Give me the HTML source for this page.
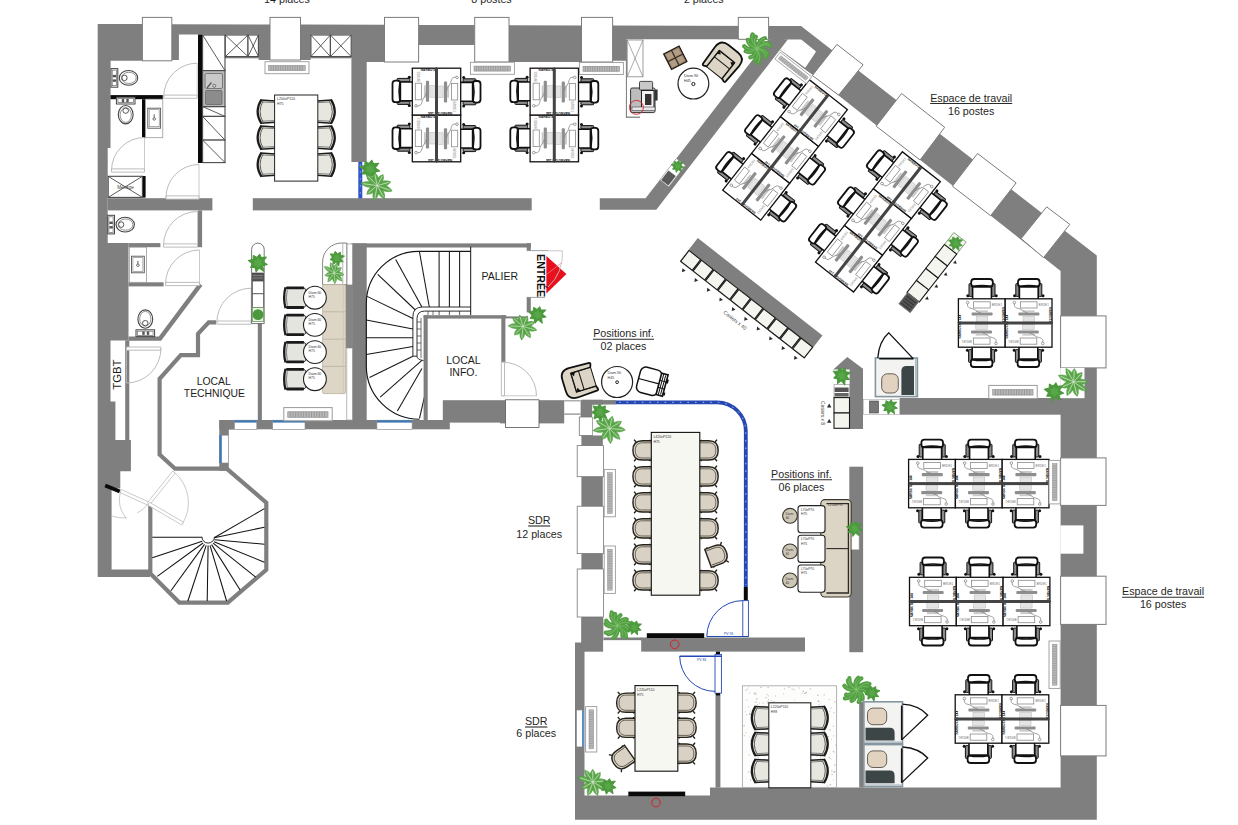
<!DOCTYPE html>
<html><head><meta charset="utf-8"><title>Plan</title>
<style>
html,body{margin:0;padding:0;background:#fff;}
body{width:1238px;height:825px;overflow:hidden;font-family:"Liberation Sans",sans-serif;}
svg{display:block;}
text{font-family:"Liberation Sans",sans-serif;}
</style></head><body>
<svg width="1238" height="825" viewBox="0 0 1238 825">
<!-- defs -->
<defs><g id="oc">
<circle cx="-14.2" cy="-3" r="1.5" fill="#111"/><circle cx="14.2" cy="-3" r="1.5" fill="#111"/>
<rect x="-13" y="-15.2" width="3.4" height="12.8" rx="0.8" fill="#8c8c8c" stroke="#111" stroke-width="1"/>
<rect x="9.6" y="-15.2" width="3.4" height="12.8" rx="0.8" fill="#8c8c8c" stroke="#111" stroke-width="1"/>
<path d="M-9.4,0.4 V-13 H9.4 V0.4" fill="#fff" stroke="#111" stroke-width="1.6"/>
<rect x="-10.8" y="-19.8" width="21.6" height="7.8" rx="3" fill="#fff" stroke="#111" stroke-width="1.8"/>
<path d="M-9.6,-12.4 Q0,-14.2 9.6,-12.4" fill="none" stroke="#111" stroke-width="1.6"/>
</g><g id="ws">
<use href="#oc" x="23.6" y="0"/>
<rect x="0" y="0" width="46.8" height="24.2" fill="#fff" stroke="#111" stroke-width="1.3"/>
<rect x="15.2" y="3" width="16.6" height="6.2" fill="#fff" stroke="#8a8a8a" stroke-width="0.8"/>
<rect x="13.2" y="13.6" width="21" height="3.2" rx="1" fill="#8e8e8e"/>
<rect x="17.5" y="11.6" width="12" height="2" fill="#c9c9c9"/>
<rect x="17.8" y="17.6" width="11.6" height="5.4" fill="#e4e4e4" stroke="#b5b5b5" stroke-width="0.5"/>
<path d="M9.2,4.6 C8.2,10.5 13.5,8.6 17,11.4 S21,13.6 22.5,14" fill="none" stroke="#777" stroke-width="0.7"/>
<circle cx="9.2" cy="3.7" r="1.3" fill="#fff" stroke="#666" stroke-width="0.6"/>
<text x="33.4" y="7.4" font-size="3.1" fill="#777">BRDE1</text>
<text transform="translate(43.8,8.5) rotate(90)" font-size="3.2" fill="#222" font-weight="bold">NARBUTAS 144</text>
</g><g id="rad">
<rect x="0" y="0" width="44" height="12" fill="#fff" stroke="#9a9a9a" stroke-width="0.9"/>
<rect x="3.6" y="3.8" width="36.6" height="5" fill="#b8b8b8" stroke="#8d8d8d" stroke-width="0.6"/>
<path d="M6,3.8v5M8.4,3.8v5M10.8,3.8v5M13.2,3.8v5M15.6,3.8v5M18,3.8v5M20.4,3.8v5M22.8,3.8v5M25.2,3.8v5M27.6,3.8v5M30,3.8v5M32.4,3.8v5M34.8,3.8v5M37.2,3.8v5" stroke="#8a8a8a" stroke-width="0.6"/>
</g><g id="pstar"><polygon points="10.2,2.1 5.2,3.5 6.4,9.7 1.2,6.0 -2.1,10.3 -3.5,5.3 -8.1,5.3 -6.1,1.2 -10.6,-2.2 -5.5,-3.7 -5.2,-7.9 -1.1,-5.8 1.9,-9.2 3.7,-5.5 9.2,-6.1 5.4,-1.1" fill="#4b993c" stroke="#4b993c" stroke-width="1.2" stroke-linejoin="round"/><polygon points="5.9,3.2 2.0,3.3 0.1,6.2 -1.7,3.2 -4.7,2.9 -3.1,0.1 -5.3,-2.9 -1.6,-2.7 -0.1,-5.5 1.6,-2.9 4.5,-2.8 3.5,-0.1" fill="#57a647"/></g><g id="pleaf"><circle r="7.5" fill="#5fa94e"/><path d="M0,0Q8.3,6.3 15.9,1.4Q9.2,-4.8 0,0ZM0,0Q1.7,9.9 10.5,10.9Q9.8,2.1 0,0ZM0,0Q-5.0,8.8 1.1,15.2Q6.2,7.9 0,0ZM0,0Q-8.9,2.9 -7.8,11.1Q0.3,9.3 0,0ZM0,0Q-9.8,-4.4 -16.5,2.1Q-8.4,6.7 0,0ZM0,0Q-4.4,-9.1 -13.3,-7.8Q-10.1,0.5 0,0ZM0,0Q1.7,-9.1 -6.0,-11.9Q-8.3,-4.0 0,0ZM0,0Q7.0,-5.5 2.8,-12.3Q-3.9,-8.0 0,0ZM0,0Q9.5,0.9 12.1,-7.1Q3.8,-8.7 0,0Z" fill="#5fa94e" stroke="#4f9a40" stroke-width="0.5"/><path d="M0,0L13.5,1.2M0,0L8.9,9.2M0,0L1.0,12.9M0,0L-6.6,9.4M0,0L-14.0,1.8M0,0L-11.3,-6.7M0,0L-5.1,-10.1M0,0L2.4,-10.5M0,0L10.3,-6.1" stroke="#cfe9c6" stroke-width="0.7" fill="none"/></g><g id="palm"><path d="M0,0Q8.9,-0.4 11.4,4.9M0,0Q9.3,4.7 8.8,11.6M0,0Q6.5,5.1 5.1,10.4M0,0Q1.4,9.1 -3.8,12.2M0,0Q-3.1,8.4 -9.0,8.6M0,0Q-5.2,8.2 -11.5,7.1M0,0Q-8.1,2.6 -11.7,-1.7M0,0Q-8.7,0.3 -11.1,-4.9M0,0Q-7.7,-6.7 -5.6,-13.0M0,0Q-4.9,-6.8 -2.1,-11.5M0,0Q-1.2,-7.7 3.2,-10.3M0,0Q4.2,-7.0 9.5,-6.2M0,0Q7.4,-5.3 12.5,-2.1" fill="none" stroke="#53a043" stroke-width="4.2" stroke-linecap="round"/><circle r="6.5" fill="#53a043"/><path d="M0,0Q8.9,-0.4 11.4,4.9M0,0Q9.3,4.7 8.8,11.6M0,0Q6.5,5.1 5.1,10.4M0,0Q1.4,9.1 -3.8,12.2M0,0Q-3.1,8.4 -9.0,8.6M0,0Q-5.2,8.2 -11.5,7.1M0,0Q-8.1,2.6 -11.7,-1.7M0,0Q-8.7,0.3 -11.1,-4.9M0,0Q-7.7,-6.7 -5.6,-13.0M0,0Q-4.9,-6.8 -2.1,-11.5M0,0Q-1.2,-7.7 3.2,-10.3M0,0Q4.2,-7.0 9.5,-6.2M0,0Q7.4,-5.3 12.5,-2.1" fill="none" stroke="#86c676" stroke-width="0.6"/></g><g id="plant"><use href="#pstar"/></g><g id="plant2"><use href="#pleaf"/></g><g id="mc">
<path d="M-10.8,-17.2 l2.4,2 M10.8,-17.2 l-2.4,2 M-10.6,-1 l2,-1.4 M10.6,-1 l-2,-1.4" stroke="#26231d" stroke-width="1.4" fill="none"/>
<path d="M-9.6,1 V-9 C-9.6,-15.6 -6.4,-18.4 0,-18.4 C6.4,-18.4 9.6,-15.6 9.6,-9 V1 Z" fill="#d9d2c4" stroke="#26231d" stroke-width="1.4"/>
<path d="M-7.6,0 V-9 C-7.6,-13.6 -5,-16 0,-16 C5,-16 7.6,-13.6 7.6,-9 V0" fill="none" stroke="#4a453b" stroke-width="0.8"/>
</g><g id="kc">
<path d="M-10.6,1 L-11.2,-14.4 Q0,-19.6 11.2,-14.4 L10.6,1 Z" fill="#e7e7e0"/>
<path d="M-12,-13.2 Q0,-20.8 12,-13.2" fill="none" stroke="#1b1b1b" stroke-width="2.2"/>
<path d="M-10.4,-11.6 Q0,-17.4 10.4,-11.6" fill="none" stroke="#3a3a3a" stroke-width="0.8"/>
<path d="M-10.7,0.6 L-11.6,-14 M10.7,0.6 L11.6,-14" stroke="#1b1b1b" stroke-width="1.5" fill="none"/>
<path d="M-9,0 L-9.6,-12 M9,0 L9.6,-12" stroke="#555" stroke-width="0.7" fill="none"/>
</g><g id="rc">
<rect x="-9.6" y="-21" width="19.2" height="21" rx="2" fill="#e5e5df" stroke="#333" stroke-width="0.9"/>
<rect x="-11.2" y="-19.6" width="2.8" height="18" rx="0.8" fill="#1b1b1b"/>
<rect x="8.4" y="-19.6" width="2.8" height="18" rx="0.8" fill="#1b1b1b"/>
<path d="M-10.4,-20.2 Q0,-23 10.4,-20.2" fill="none" stroke="#1b1b1b" stroke-width="2.2"/>
<path d="M-8,-18.4 Q0,-20.2 8,-18.4" fill="none" stroke="#555" stroke-width="0.7"/>
</g></defs>
<!-- walls -->
<polygon points="97.7,24.0 142.4,24.1 142.4,60.8 110.6,60.8 110.5,148.0 107.7,148.0 107.7,243.1 128.5,243.1 128.5,340.4 110.5,340.4 110.5,401.5 115.4,401.5 115.4,440.1 130.9,440.1 130.9,471.2 120.3,471.2 120.3,488.4 111.6,488.4 111.6,569.6 150.0,569.6 150.0,577.0 97.7,577.0" fill="#7f7f7f" />
<polygon points="171.8,24.2 270.0,24.5 270.0,60.0 258.6,60.0 258.6,34.5 178.9,34.5 178.9,60.0 171.8,60.0" fill="#7f7f7f" />
<rect x="225.0" y="56.6" width="33.6" height="1.7" fill="#7f7f7f" />
<polygon points="300.5,24.6 384.5,24.8 384.5,62.0 366.7,62.0 366.7,162.0 351.4,162.0 351.4,34.5 310.7,34.5 310.7,60.0 300.5,60.0" fill="#7f7f7f" />
<rect x="310.7" y="56.6" width="40.7" height="1.7" fill="#7f7f7f" />
<polygon points="418.6,24.9 474.7,25.1 474.7,45.0 418.6,45.0" fill="#7f7f7f" />
<polygon points="509.0,25.2 581.5,25.4 581.5,62.0 509.0,62.0" fill="#7f7f7f" />
<polygon points="612.4,25.5 801.0,26.0 1096.8,255.6 1096.8,819.7 575.0,819.7 575.0,642.4 584.5,642.4 584.5,795.5 710.0,795.5 710.0,787.6 1060.6,787.6 1060.6,271.0 812.4,74.8 803.2,67.9 777.8,48.6 770.0,39.3 626.2,39.3 626.2,60.7 612.4,60.7" fill="#7f7f7f" />
<polygon points="784.5,40.6 800.9,40.6 814.8,51.7 805.0,66.5 779.8,48.3" fill="#fff" stroke="#fff" stroke-width="2" stroke-linejoin="round"/>
<polygon points="645.6,198.2 768.5,39.3 788.0,39.3 656.3,209.7 599.8,209.7 599.8,198.2" fill="#7f7f7f" />
<rect x="107.7" y="198.2" width="104.7" height="12.2" fill="#7f7f7f" />
<rect x="252.8" y="198.2" width="278.9" height="12.2" fill="#7f7f7f" />
<rect x="142.4" y="17.4" width="29.4" height="43.4" fill="#fff" stroke="#7c7c7c" stroke-width="1.0" />
<rect x="270.0" y="17.4" width="30.5" height="42.6" fill="#fff" stroke="#7c7c7c" stroke-width="1.0" />
<rect x="384.5" y="17.4" width="34.1" height="44.6" fill="#fff" stroke="#7c7c7c" stroke-width="1.0" />
<rect x="474.7" y="17.4" width="34.3" height="44.6" fill="#fff" stroke="#7c7c7c" stroke-width="1.0" />
<rect x="581.5" y="17.4" width="31.1" height="44.6" fill="#fff" stroke="#7c7c7c" stroke-width="1.0" />
<rect x="738.3" y="17.4" width="30.3" height="21.9" fill="#fff" stroke="#7c7c7c" stroke-width="1.0" />
<polygon points="836.9,44.4 863.1,64.8 838.6,95.1 812.4,75.5" fill="#fff" stroke="#7c7c7c" stroke-width="1.0" />
<polygon points="901.6,93.5 944.7,127.3 920.1,160.0 876.2,126.2" fill="#fff" stroke="#7c7c7c" stroke-width="1.0" />
<polygon points="977.5,153.5 1016.1,182.9 990.6,215.7 952.4,186.2" fill="#fff" stroke="#7c7c7c" stroke-width="1.0" />
<polygon points="1046.7,206.9 1069.8,224.4 1043.6,257.6 1021.1,238.6" fill="#fff" stroke="#7c7c7c" stroke-width="1.0" />
<rect x="1060.6" y="315.9" width="45.4" height="52.0" fill="#fff" stroke="#7c7c7c" stroke-width="1.0" />
<rect x="1060.6" y="457.9" width="45.4" height="47.5" fill="#fff" stroke="#7c7c7c" stroke-width="1.0" />
<rect x="1060.6" y="576.2" width="45.4" height="48.2" fill="#fff" stroke="#7c7c7c" stroke-width="1.0" />
<rect x="1060.6" y="705.4" width="45.4" height="50.5" fill="#fff" stroke="#7c7c7c" stroke-width="1.0" />
<rect x="1060.4" y="525.4" width="23.0" height="28.3" fill="#fff" />
<rect x="1060.4" y="367.9" width="24.1" height="30.3" fill="#fff" />
<rect x="899.7" y="398.0" width="161.8" height="16.7" fill="#7f7f7f" />
<polygon points="833.2,369.5 847.3,357.1 863.0,368.7 863.0,429.1 849.6,429.1 849.6,369.5" fill="#7f7f7f" />
<rect x="849.3" y="466.7" width="13.8" height="185.5" fill="#7f7f7f" />
<rect x="640.6" y="637.5" width="164.4" height="14.1" fill="#7f7f7f" />
<rect x="715.5" y="693.7" width="4.9" height="93.9" fill="#7f7f7f" />
<rect x="581.4" y="399.7" width="21.4" height="243.9" fill="#7f7f7f" />
<rect x="581.4" y="617.8" width="22.0" height="33.9" fill="#7f7f7f" />
<rect x="442.8" y="400.2" width="57.2" height="22.4" fill="#7f7f7f" />
<rect x="500.0" y="400.2" width="64.2" height="23.2" fill="#7f7f7f" />
<rect x="580.6" y="400.2" width="11.6" height="17.5" fill="#7f7f7f" />
<rect x="219.3" y="420.0" width="230.5" height="9.3" fill="#7f7f7f" />
<polygon points="219.3,420.0 234.0,420.0 234.0,429.5 228.8,429.5 228.8,470.7 219.3,470.7" fill="#7f7f7f" />
<rect x="351.4" y="243.4" width="15.3" height="177.1" fill="#7f7f7f" />
<rect x="351.4" y="243.4" width="179.6" height="4.1" fill="#7f7f7f" />
<!-- left -->
<rect x="198.0" y="210.4" width="4.1" height="36.8" fill="#7f7f7f" />
<rect x="128.5" y="243.1" width="31.9" height="4.1" fill="#7f7f7f" />
<rect x="128.5" y="282.3" width="35.1" height="4.1" fill="#7f7f7f" />
<polyline points="200.6,284.4 160.0,338.6 128.5,338.6" fill="none" stroke="#7f7f7f" stroke-width="4.4" />
<rect x="125.2" y="340.4" width="4.1" height="99.7" fill="#7f7f7f" />
<polyline points="216.0,322.4 208.7,322.4 198.0,333.8 198.0,355.1 180.8,355.1 159.6,378.8 159.6,454.5 175.1,468.7 226.7,468.7 266.3,502.6 266.3,569.8 227.8,602.6 179.3,602.6 150.3,573.5 150.3,503.9" fill="none" stroke="#7f7f7f" stroke-width="4.2" stroke-linejoin="miter"/>
<rect x="257.8" y="320.7" width="4.1" height="99.8" fill="#7f7f7f" />
<rect x="198.0" y="34.5" width="4.1" height="128.5" fill="#0a0a0a" />
<rect x="110.5" y="95.1" width="52.3" height="4.1" fill="#0a0a0a" />
<rect x="142.0" y="99.2" width="3.6" height="38.5" fill="#0a0a0a" />
<rect x="142.4" y="176.0" width="3.2" height="21.6" fill="#0a0a0a" />
<rect x="202.6" y="35.0" width="22.4" height="35.6" fill="#fff" stroke="#4a4a4a" stroke-width="1.1" />
<line x1="202.6" y1="35.0" x2="225.0" y2="70.6" stroke="#4a4a4a" stroke-width="0.9" />
<rect x="202.6" y="106.6" width="22.4" height="9.8" fill="#fff" stroke="#4a4a4a" stroke-width="1.1" />
<line x1="202.6" y1="106.6" x2="225.0" y2="116.4" stroke="#4a4a4a" stroke-width="0.9" />
<rect x="202.6" y="116.4" width="22.4" height="23.7" fill="#fff" stroke="#4a4a4a" stroke-width="1.1" />
<line x1="202.6" y1="116.4" x2="225.0" y2="140.1" stroke="#4a4a4a" stroke-width="0.9" />
<rect x="202.6" y="140.1" width="22.4" height="22.5" fill="#fff" stroke="#4a4a4a" stroke-width="1.1" />
<line x1="202.6" y1="140.1" x2="225.0" y2="162.6" stroke="#4a4a4a" stroke-width="0.9" />
<rect x="202.6" y="70.6" width="22.4" height="36.0" fill="#b9b9b9" stroke="#4a4a4a" stroke-width="1.1" />
<rect x="205.0" y="73.5" width="17.5" height="15.0" fill="#c9c9c9" stroke="#666" stroke-width="0.8" rx="1.5"/>
<rect x="205.5" y="90.5" width="16.5" height="14.0" fill="#8c8c8c" stroke="#666" stroke-width="0.8" rx="1"/>
<circle cx="214.3" cy="85.8" r="1.5" fill="#ddd" stroke="#555" stroke-width="0.8"/>
<line x1="207.0" y1="88.0" x2="211.5" y2="82.5" stroke="#555" stroke-width="1.2" />
<rect x="225.3" y="35.0" width="22.7" height="21.6" fill="#fff" stroke="#4a4a4a" stroke-width="1.1" />
<line x1="225.3" y1="35.0" x2="248.0" y2="56.6" stroke="#4a4a4a" stroke-width="0.9" />
<line x1="225.3" y1="56.6" x2="248.0" y2="35.0" stroke="#4a4a4a" stroke-width="0.9" />
<rect x="248.0" y="35.0" width="10.4" height="21.6" fill="#fff" stroke="#4a4a4a" stroke-width="1.1" />
<line x1="248.0" y1="35.0" x2="258.4" y2="56.6" stroke="#4a4a4a" stroke-width="0.9" />
<line x1="248.0" y1="56.6" x2="258.4" y2="35.0" stroke="#4a4a4a" stroke-width="0.9" />
<rect x="310.9" y="35.0" width="19.5" height="21.6" fill="#fff" stroke="#4a4a4a" stroke-width="1.1" />
<line x1="310.9" y1="35.0" x2="330.4" y2="56.6" stroke="#4a4a4a" stroke-width="0.9" />
<line x1="310.9" y1="56.6" x2="330.4" y2="35.0" stroke="#4a4a4a" stroke-width="0.9" />
<rect x="330.4" y="35.0" width="20.8" height="21.6" fill="#fff" stroke="#4a4a4a" stroke-width="1.1" />
<line x1="330.4" y1="35.0" x2="351.2" y2="56.6" stroke="#4a4a4a" stroke-width="0.9" />
<line x1="330.4" y1="56.6" x2="351.2" y2="35.0" stroke="#4a4a4a" stroke-width="0.9" />
<rect x="108.2" y="176.3" width="34.2" height="21.1" fill="#fff" stroke="#4a4a4a" stroke-width="1.1" />
<line x1="108.2" y1="176.3" x2="142.4" y2="197.4" stroke="#4a4a4a" stroke-width="0.9" />
<line x1="108.2" y1="197.4" x2="142.4" y2="176.3" stroke="#4a4a4a" stroke-width="0.9" />
<text x="125.5" y="189" font-size="4.6" text-anchor="middle" fill="#444">Ménage</text>
<rect x="145.6" y="99.2" width="17.2" height="38.5" fill="#fff" stroke="#999" stroke-width="0.8" />
<rect x="147.8" y="108.2" width="12.8" height="20.0" fill="#fff" stroke="#555" stroke-width="0.9" />
<rect x="149.2" y="109.7" width="10.0" height="17.0" fill="none" stroke="#777" stroke-width="0.6" />
<circle cx="154.2" cy="118.9" r="1.3" fill="#fff" stroke="#333" stroke-width="0.7"/>
<line x1="154.2" y1="114.4" x2="154.2" y2="117.4" stroke="#333" stroke-width="0.8" />
<rect x="129.3" y="247.2" width="17.2" height="35.1" fill="#fff" stroke="#999" stroke-width="0.8" />
<rect x="131.5" y="256.2" width="12.8" height="16.6" fill="#fff" stroke="#555" stroke-width="0.9" />
<rect x="132.9" y="257.7" width="10.0" height="13.6" fill="none" stroke="#777" stroke-width="0.6" />
<circle cx="137.9" cy="265.2" r="1.3" fill="#fff" stroke="#333" stroke-width="0.7"/>
<line x1="137.9" y1="260.8" x2="137.9" y2="263.8" stroke="#333" stroke-width="0.8" />
<g transform="translate(128.5,77.9) rotate(0)"><rect x="-17.5" y="-9.3" width="6.8" height="18.6" fill="#fff" stroke="#444" stroke-width="1"/><rect x="-16.3" y="-7.8" width="4.2" height="15.6" fill="none" stroke="#666" stroke-width="0.7"/><rect x="-15.8" y="-3" width="3.4" height="2.4" fill="#555"/><rect x="-15.8" y="1.5" width="3.4" height="2.4" fill="#555"/><ellipse cx="0" cy="0" rx="9.2" ry="7.4" fill="#fff" stroke="#444" stroke-width="1.1"/><ellipse cx="0.3" cy="0" rx="7.4" ry="5.6" fill="none" stroke="#666" stroke-width="0.7"/><ellipse cx="-4" cy="0" rx="2.6" ry="2.8" fill="#fff" stroke="#444" stroke-width="0.9"/></g>
<g transform="translate(125.7,114.7) rotate(90)"><rect x="-17.5" y="-9.3" width="6.8" height="18.6" fill="#fff" stroke="#444" stroke-width="1"/><rect x="-16.3" y="-7.8" width="4.2" height="15.6" fill="none" stroke="#666" stroke-width="0.7"/><rect x="-15.8" y="-3" width="3.4" height="2.4" fill="#555"/><rect x="-15.8" y="1.5" width="3.4" height="2.4" fill="#555"/><ellipse cx="0" cy="0" rx="9.2" ry="7.4" fill="#fff" stroke="#444" stroke-width="1.1"/><ellipse cx="0.3" cy="0" rx="7.4" ry="5.6" fill="none" stroke="#666" stroke-width="0.7"/><ellipse cx="-4" cy="0" rx="2.6" ry="2.8" fill="#fff" stroke="#444" stroke-width="0.9"/></g>
<g transform="translate(125.2,224.6) rotate(0)"><rect x="-17.5" y="-9.3" width="6.8" height="18.6" fill="#fff" stroke="#444" stroke-width="1"/><rect x="-16.3" y="-7.8" width="4.2" height="15.6" fill="none" stroke="#666" stroke-width="0.7"/><rect x="-15.8" y="-3" width="3.4" height="2.4" fill="#555"/><rect x="-15.8" y="1.5" width="3.4" height="2.4" fill="#555"/><ellipse cx="0" cy="0" rx="9.2" ry="7.4" fill="#fff" stroke="#444" stroke-width="1.1"/><ellipse cx="0.3" cy="0" rx="7.4" ry="5.6" fill="none" stroke="#666" stroke-width="0.7"/><ellipse cx="-4" cy="0" rx="2.6" ry="2.8" fill="#fff" stroke="#444" stroke-width="0.9"/></g>
<g transform="translate(145.3,319.1) rotate(-90)"><rect x="-17.5" y="-9.3" width="6.8" height="18.6" fill="#fff" stroke="#444" stroke-width="1"/><rect x="-16.3" y="-7.8" width="4.2" height="15.6" fill="none" stroke="#666" stroke-width="0.7"/><rect x="-15.8" y="-3" width="3.4" height="2.4" fill="#555"/><rect x="-15.8" y="1.5" width="3.4" height="2.4" fill="#555"/><ellipse cx="0" cy="0" rx="9.2" ry="7.4" fill="#fff" stroke="#444" stroke-width="1.1"/><ellipse cx="0.3" cy="0" rx="7.4" ry="5.6" fill="none" stroke="#666" stroke-width="0.7"/><ellipse cx="-4" cy="0" rx="2.6" ry="2.8" fill="#fff" stroke="#444" stroke-width="0.9"/></g>
<text transform="translate(121.4,374.7) rotate(-90)" font-size="11.3" text-anchor="middle" fill="#1c1c1c">TGBT</text>
<text x="213.8" y="384.8" font-size="10.4" text-anchor="middle" fill="#1c1c1c">LOCAL</text>
<text x="214.4" y="397.4" font-size="10.4" text-anchor="middle" fill="#1c1c1c">TECHNIQUE</text>
<path d="M197.2,95.1 L163.7,95.1 L163.7,98.3 L197.2,98.3 Z" fill="#fff" stroke="#bcbcbc" stroke-width="1.0"/>
<path d="M163.7,96.7 A33.5,33.5 0 0 1 197.2,63.2" fill="none" stroke="#bcbcbc" stroke-width="1.0"/>
<line x1="197.2" y1="96.7" x2="197.2" y2="63.2" stroke="#bcbcbc" stroke-width="0.8" />
<path d="M144.5,168.9 L111.5,168.9 L111.5,172.1 L144.5,172.1 Z" fill="#fff" stroke="#bcbcbc" stroke-width="1.0"/>
<path d="M111.5,170.5 A33.0,33.0 0 0 1 144.5,137.5" fill="none" stroke="#bcbcbc" stroke-width="1.0"/>
<line x1="144.5" y1="170.5" x2="144.5" y2="137.5" stroke="#bcbcbc" stroke-width="0.8" />
<path d="M199.0,195.9 L166.0,195.9 L166.0,199.1 L199.0,199.1 Z" fill="#fff" stroke="#bcbcbc" stroke-width="1.0"/>
<path d="M166.0,197.5 A33.0,33.0 0 0 1 199.0,164.5" fill="none" stroke="#bcbcbc" stroke-width="1.0"/>
<line x1="199.0" y1="197.5" x2="199.0" y2="164.5" stroke="#bcbcbc" stroke-width="0.8" />
<path d="M197.5,243.9 L163.5,243.9 L163.5,247.1 L197.5,247.1 Z" fill="#fff" stroke="#bcbcbc" stroke-width="1.0"/>
<path d="M163.5,245.5 A34.0,34.0 0 0 1 197.5,211.5" fill="none" stroke="#bcbcbc" stroke-width="1.0"/>
<line x1="197.5" y1="245.5" x2="197.5" y2="211.5" stroke="#bcbcbc" stroke-width="0.8" />
<path d="M199.5,282.4 L165.5,282.4 L165.5,285.6 L199.5,285.6 Z" fill="#fff" stroke="#bcbcbc" stroke-width="1.0"/>
<path d="M165.5,284.0 A34.0,34.0 0 0 1 199.5,250.0" fill="none" stroke="#bcbcbc" stroke-width="1.0"/>
<line x1="199.5" y1="284.0" x2="199.5" y2="250.0" stroke="#bcbcbc" stroke-width="0.8" />
<path d="M251.2,321.0 L216.8,321.0 L216.8,324.2 L251.2,324.2 Z" fill="#fff" stroke="#bcbcbc" stroke-width="1.0"/>
<path d="M216.8,322.6 A34.4,34.4 0 0 1 251.2,288.2" fill="none" stroke="#bcbcbc" stroke-width="1.0"/>
<line x1="251.2" y1="322.6" x2="251.2" y2="288.2" stroke="#bcbcbc" stroke-width="0.8" />
<path d="M126.5,350.2 L160.9,350.2 L160.9,347.0 L126.5,347.0 Z" fill="#fff" stroke="#bcbcbc" stroke-width="1.0"/>
<path d="M160.9,348.6 A34.4,34.4 0 0 1 126.5,383.0" fill="none" stroke="#bcbcbc" stroke-width="1.0"/>
<line x1="126.5" y1="348.6" x2="126.5" y2="383.0" stroke="#bcbcbc" stroke-width="0.8" />
<line x1="201.9" y1="537.2" x2="152.3" y2="537.2" stroke="#111" stroke-width="1.05" />
<line x1="202.2" y1="541.3" x2="152.3" y2="557.8" stroke="#111" stroke-width="1.05" />
<line x1="203.1" y1="543.0" x2="157.3" y2="576.4" stroke="#111" stroke-width="1.05" />
<line x1="204.5" y1="544.4" x2="170.9" y2="590.7" stroke="#111" stroke-width="1.05" />
<line x1="206.2" y1="545.3" x2="187.9" y2="601.0" stroke="#111" stroke-width="1.05" />
<line x1="208.1" y1="545.6" x2="207.2" y2="601.0" stroke="#111" stroke-width="1.05" />
<line x1="210.0" y1="545.3" x2="226.6" y2="601.0" stroke="#111" stroke-width="1.05" />
<line x1="211.6" y1="544.6" x2="240.1" y2="590.0" stroke="#111" stroke-width="1.05" />
<line x1="213.1" y1="543.2" x2="255.7" y2="577.1" stroke="#111" stroke-width="1.05" />
<line x1="214.0" y1="541.7" x2="264.4" y2="562.2" stroke="#111" stroke-width="1.05" />
<line x1="214.5" y1="539.8" x2="264.4" y2="544.2" stroke="#111" stroke-width="1.05" />
<line x1="214.2" y1="537.8" x2="264.4" y2="527.2" stroke="#111" stroke-width="1.05" />
<line x1="214.2" y1="537.8" x2="264.4" y2="508.6" stroke="#111" stroke-width="1.05" />
<path d="M201.9,536.8 A6.3,6.3 0 0 0 214.5,536.8" fill="#fff" stroke="#111" stroke-width="0.9"/>
<line x1="105.2" y1="485.6" x2="119.8" y2="491.4" stroke="#0a0a0a" stroke-width="3.8"/>
<!-- top -->
<g transform="translate(412.3,161.8) rotate(-90)">
<use href="#ws" x="0.0" y="0"/>
<use href="#ws" transform="translate(46.8,48.4) rotate(180)"/>
<use href="#ws" x="46.8" y="0"/>
<use href="#ws" transform="translate(93.6,48.4) rotate(180)"/>
<rect x="0" y="22.7" width="93.6" height="3" fill="#444"/>
</g>
<g transform="translate(530.1,161.8) rotate(-90)">
<use href="#ws" x="0.0" y="0"/>
<use href="#ws" transform="translate(46.8,48.4) rotate(180)"/>
<use href="#ws" x="46.8" y="0"/>
<use href="#ws" transform="translate(93.6,48.4) rotate(180)"/>
<rect x="0" y="22.7" width="93.6" height="3" fill="#444"/>
</g>
<use href="#rad" transform="translate(265.0,61.7)"/>
<use href="#rad" transform="translate(470.4,62.3)"/>
<use href="#rad" transform="translate(579.4,62.5)"/>
<use href="#kc" transform="translate(274.6,111.6) rotate(-90)"/>
<use href="#kc" transform="translate(317.8,111.6) rotate(90)"/>
<use href="#kc" transform="translate(274.6,137.6) rotate(-90)"/>
<use href="#kc" transform="translate(317.8,137.6) rotate(90)"/>
<use href="#kc" transform="translate(274.6,164.6) rotate(-90)"/>
<use href="#kc" transform="translate(317.8,164.6) rotate(90)"/>
<rect x="274.6" y="95.0" width="43.2" height="86.1" fill="#fff" stroke="#222" stroke-width="1" />
<text x="277" y="100.4" font-size="3.6" fill="#333">L200xP110</text><text x="277" y="105" font-size="3.6" fill="#333">H75</text>
<rect x="358.3" y="162.0" width="4.0" height="36.4" fill="#2f55c8" />
<line x1="360.3" y1="164.0" x2="360.3" y2="197.0" stroke="#9db4f0" stroke-width="0.7" stroke-dasharray="2 5"/>
<!-- ne -->
<g transform="translate(722.7,190.2) rotate(-51.9)">
<use href="#ws" x="0.0" y="0"/>
<use href="#ws" transform="translate(46.8,48.4) rotate(180)"/>
<use href="#ws" x="46.8" y="0"/>
<use href="#ws" transform="translate(93.6,48.4) rotate(180)"/>
<use href="#ws" x="93.6" y="0"/>
<use href="#ws" transform="translate(140.4,48.4) rotate(180)"/>
<rect x="0" y="22.7" width="140.4" height="3" fill="#444"/>
</g>
<g transform="translate(815.5,262.1) rotate(-51.8)">
<use href="#ws" x="0.0" y="0"/>
<use href="#ws" transform="translate(46.8,48.4) rotate(180)"/>
<use href="#ws" x="46.8" y="0"/>
<use href="#ws" transform="translate(93.6,48.4) rotate(180)"/>
<use href="#ws" x="93.6" y="0"/>
<use href="#ws" transform="translate(140.4,48.4) rotate(180)"/>
<rect x="0" y="22.7" width="140.4" height="3" fill="#444"/>
</g>
<g transform="translate(958.4,298.8) rotate(0)">
<use href="#ws" x="0.0" y="0"/>
<use href="#ws" transform="translate(46.8,48.4) rotate(180)"/>
<use href="#ws" x="46.8" y="0"/>
<use href="#ws" transform="translate(93.6,48.4) rotate(180)"/>
<rect x="0" y="22.7" width="93.6" height="3" fill="#444"/>
</g>
<g transform="translate(697.8,238.1) rotate(38)"><rect x="0" y="0" width="158.2" height="29.4" fill="#7f7f7f"/><rect x="0.8" y="15.2" width="14.6" height="13.6" fill="#f5f5f0" stroke="#1a1a1a" stroke-width="1.1"/><polygon points="6.4,33.2 10.6,33.2 8.5,36.6" fill="#2a2a2a"/><rect x="16.6" y="15.2" width="14.6" height="13.6" fill="#f5f5f0" stroke="#1a1a1a" stroke-width="1.1"/><polygon points="22.2,33.2 26.4,33.2 24.3,36.6" fill="#2a2a2a"/><rect x="32.4" y="15.2" width="14.6" height="13.6" fill="#f5f5f0" stroke="#1a1a1a" stroke-width="1.1"/><polygon points="38.0,33.2 42.2,33.2 40.1,36.6" fill="#2a2a2a"/><rect x="48.2" y="15.2" width="14.6" height="13.6" fill="#f5f5f0" stroke="#1a1a1a" stroke-width="1.1"/><polygon points="53.8,33.2 58.0,33.2 55.9,36.6" fill="#2a2a2a"/><rect x="64.0" y="15.2" width="14.6" height="13.6" fill="#f5f5f0" stroke="#1a1a1a" stroke-width="1.1"/><polygon points="69.6,33.2 73.8,33.2 71.7,36.6" fill="#2a2a2a"/><rect x="79.8" y="15.2" width="14.6" height="13.6" fill="#f5f5f0" stroke="#1a1a1a" stroke-width="1.1"/><polygon points="85.4,33.2 89.6,33.2 87.5,36.6" fill="#2a2a2a"/><rect x="95.6" y="15.2" width="14.6" height="13.6" fill="#f5f5f0" stroke="#1a1a1a" stroke-width="1.1"/><polygon points="101.2,33.2 105.4,33.2 103.3,36.6" fill="#2a2a2a"/><rect x="111.4" y="15.2" width="14.6" height="13.6" fill="#f5f5f0" stroke="#1a1a1a" stroke-width="1.1"/><polygon points="117.0,33.2 121.2,33.2 119.1,36.6" fill="#2a2a2a"/><rect x="127.2" y="15.2" width="14.6" height="13.6" fill="#f5f5f0" stroke="#1a1a1a" stroke-width="1.1"/><polygon points="132.8,33.2 137.0,33.2 134.9,36.6" fill="#2a2a2a"/><rect x="143.0" y="15.2" width="14.6" height="13.6" fill="#f5f5f0" stroke="#1a1a1a" stroke-width="1.1"/><polygon points="148.6,33.2 152.8,33.2 150.7,36.6" fill="#2a2a2a"/><text x="80" y="43.5" font-size="5" text-anchor="middle" fill="#444">Casiers x 40</text></g>
<g transform="translate(953.8,232.5) rotate(38)"><rect x="0" y="0" width="15.6" height="15.2" fill="#f5f5f0" stroke="#6a9a5a" stroke-width="0.8"/><rect x="0" y="15.2" width="15.6" height="15.2" fill="#f5f5f0" stroke="#1a1a1a" stroke-width="1.1"/><polygon points="18.4,20.8 18.4,24.8 21.6,22.8" fill="#2a2a2a"/><rect x="0" y="30.4" width="15.6" height="15.2" fill="#f5f5f0" stroke="#1a1a1a" stroke-width="1.1"/><polygon points="18.4,36.0 18.4,40.0 21.6,38.0" fill="#2a2a2a"/><rect x="0" y="45.6" width="15.6" height="15.2" fill="#f5f5f0" stroke="#1a1a1a" stroke-width="1.1"/><polygon points="18.4,51.2 18.4,55.2 21.6,53.2" fill="#2a2a2a"/><rect x="0" y="60.8" width="15.6" height="15.2" fill="#f5f5f0" stroke="#1a1a1a" stroke-width="1.1"/><polygon points="18.4,66.4 18.4,70.4 21.6,68.4" fill="#2a2a2a"/><rect x="0.6" y="76" width="14.4" height="14" fill="#555" stroke="#777" stroke-width="0.8"/><path d="M2,79h11.6M2,82h11.6M2,85h11.6M2,88h11.6" stroke="#333" stroke-width="1"/></g>
<use href="#rad" transform="translate(988.8,385.4) scale(1.1)"/>
<line x1="626.4" y1="39.5" x2="626.4" y2="117.5" stroke="#777" stroke-width="1" />
<line x1="626.0" y1="117.2" x2="640.0" y2="117.2" stroke="#777" stroke-width="1.2" />
<rect x="627.2" y="40.0" width="15.8" height="36.8" fill="#fff" stroke="#888" stroke-width="0.8" />
<line x1="627.2" y1="40.0" x2="643.0" y2="76.8" stroke="#888" stroke-width="0.7" />
<line x1="627.2" y1="76.8" x2="643.0" y2="40.0" stroke="#888" stroke-width="0.7" />
<rect x="630.6" y="88.0" width="24.4" height="24.6" fill="#bdbdbd" stroke="#333" stroke-width="1" rx="1.5"/>
<rect x="639.5" y="81.4" width="13.1" height="8.6" fill="#c8c8c8" stroke="#333" stroke-width="0.9" rx="1"/>
<rect x="641.5" y="90.5" width="12.5" height="17.5" fill="#f2f2f2" stroke="#222" stroke-width="1" />
<rect x="645.0" y="94.0" width="6.4" height="11.0" fill="#333" />
<rect x="654.6" y="89.5" width="3.0" height="11.0" fill="#333" />
<rect x="632.0" y="107.0" width="23.0" height="3.6" fill="#e8e8e8" stroke="#444" stroke-width="0.6" />
<circle cx="636.4" cy="107.4" r="7" fill="none" stroke="#d8202a" stroke-width="0.9"/>
<g transform="translate(675.3,57.8) rotate(-27)"><rect x="-8.6" y="-8.6" width="17.2" height="17.2" fill="#9f8a73" stroke="#231a12" stroke-width="1.3"/><path d="M0,-8.6V8.6M-8.6,0H8.6" stroke="#3a2c20" stroke-width="1.1"/><rect x="-6.8" y="-6.8" width="5.6" height="5.6" fill="#b29d86"/><rect x="1.2" y="-6.8" width="5.6" height="5.6" fill="#b29d86"/><rect x="-6.8" y="1.2" width="5.6" height="5.6" fill="#b29d86"/><rect x="1.2" y="1.2" width="5.6" height="5.6" fill="#b29d86"/></g>
<circle cx="693.4" cy="83.6" r="15.4" fill="#fff" stroke="#222" stroke-width="1.2"/><circle cx="693.4" cy="84" r="1.6" fill="#fff" stroke="#222" stroke-width="1"/>
<text x="684" y="77" font-size="3.8" fill="#333">Diam.90</text><text x="684" y="81.6" font-size="3.8" fill="#333">H45</text>
<g transform="translate(780.2,52.2) rotate(38)"><rect x="0" y="0" width="40" height="8.6" fill="#fff" stroke="#9a9a9a" stroke-width="0.8"/><rect x="2.5" y="2.4" width="35" height="4" fill="#b8b8b8" stroke="#8d8d8d" stroke-width="0.5"/><path d="M5,2.4v4M7.5,2.4v4M10,2.4v4M12.5,2.4v4M15,2.4v4M17.5,2.4v4M20,2.4v4M22.5,2.4v4M25,2.4v4M27.5,2.4v4M30,2.4v4M32.5,2.4v4M35,2.4v4" stroke="#8a8a8a" stroke-width="0.5"/></g>
<!-- mid -->
<rect x="346.8" y="244.0" width="5.6" height="45.0" fill="#fff" stroke="#9a9a9a" stroke-width="0.7" />
<rect x="346.8" y="348.0" width="5.6" height="72.0" fill="#fff" stroke="#9a9a9a" stroke-width="0.7" />
<path d="M470.7,251.4 H418.6 A52.3,52.3 0 0 0 366.3,303.7 V366 A53.2,53.2 0 0 0 419.5,419.2" fill="none" stroke="#161616" stroke-width="1.15"/>
<line x1="439.1" y1="251.4" x2="439.1" y2="307.0" stroke="#161616" stroke-width="1.05" />
<line x1="439.1" y1="311.1" x2="439.1" y2="315.0" stroke="#161616" stroke-width="0.7" />
<line x1="449.4" y1="251.4" x2="449.4" y2="307.0" stroke="#161616" stroke-width="1.05" />
<line x1="449.4" y1="311.1" x2="449.4" y2="315.0" stroke="#161616" stroke-width="0.7" />
<line x1="459.6" y1="251.4" x2="459.6" y2="307.0" stroke="#161616" stroke-width="1.05" />
<line x1="459.6" y1="311.1" x2="459.6" y2="315.0" stroke="#161616" stroke-width="0.7" />
<line x1="470.7" y1="246.8" x2="470.7" y2="315.2" stroke="#161616" stroke-width="1" />
<path d="M470.7,307 H422.4 Q412.9,307 412.9,316.5 V356.2 M470.7,311.1 H424.6 Q417,311.1 417,318.7 V356.2 Q417,359.6 423.6,360.6 M412.9,356.2 H417" fill="none" stroke="#161616" stroke-width="0.9"/>
<line x1="417.0" y1="322.0" x2="421.0" y2="322.0" stroke="#161616" stroke-width="0.6" />
<line x1="417.0" y1="329.0" x2="421.0" y2="329.0" stroke="#161616" stroke-width="0.6" />
<line x1="417.0" y1="336.0" x2="421.0" y2="336.0" stroke="#161616" stroke-width="0.6" />
<line x1="417.0" y1="343.0" x2="421.0" y2="343.0" stroke="#161616" stroke-width="0.6" />
<line x1="417.0" y1="350.0" x2="421.0" y2="350.0" stroke="#161616" stroke-width="0.6" />
<line x1="421.0" y1="318.0" x2="421.0" y2="358.0" stroke="#161616" stroke-width="0.6" />
<line x1="428.0" y1="311.1" x2="428.0" y2="315.0" stroke="#161616" stroke-width="0.6" />
<line x1="433.0" y1="311.1" x2="433.0" y2="315.0" stroke="#161616" stroke-width="0.6" />
<line x1="419.5" y1="252.0" x2="429.3" y2="307.0" stroke="#161616" stroke-width="1.05" />
<line x1="395.7" y1="259.5" x2="421.9" y2="307.0" stroke="#161616" stroke-width="1.05" />
<line x1="377.7" y1="274.3" x2="415.4" y2="310.0" stroke="#161616" stroke-width="1.05" />
<line x1="367.1" y1="296.4" x2="412.9" y2="318.5" stroke="#161616" stroke-width="1.05" />
<line x1="366.3" y1="320.1" x2="412.9" y2="329.1" stroke="#161616" stroke-width="1.05" />
<line x1="366.3" y1="337.8" x2="412.9" y2="337.8" stroke="#161616" stroke-width="1.05" />
<line x1="366.3" y1="354.5" x2="412.9" y2="346.4" stroke="#161616" stroke-width="1.05" />
<line x1="369.5" y1="377.5" x2="412.9" y2="356.2" stroke="#161616" stroke-width="1.05" />
<line x1="380.2" y1="397.1" x2="421.9" y2="360.3" stroke="#161616" stroke-width="1.05" />
<line x1="397.4" y1="411.0" x2="421.9" y2="368.5" stroke="#161616" stroke-width="1.05" />
<line x1="419.5" y1="418.4" x2="424.4" y2="397.1" stroke="#161616" stroke-width="1.05" />
<rect x="423.6" y="315.2" width="4.1" height="104.8" fill="#7f7f7f" />
<rect x="423.6" y="315.2" width="82.6" height="3.4" fill="#7f7f7f" />
<rect x="506.0" y="316.4" width="22.0" height="2.0" fill="#7f7f7f" />
<rect x="501.3" y="315.2" width="4.1" height="46.8" fill="#7f7f7f" />
<rect x="526.7" y="243.2" width="4.1" height="7.4" fill="#7f7f7f" />
<rect x="526.7" y="297.2" width="4.1" height="15.2" fill="#7f7f7f" />
<line x1="526.7" y1="250.6" x2="548.0" y2="250.6" stroke="#8a8a8a" stroke-width="0.8" />
<line x1="526.7" y1="297.4" x2="545.0" y2="297.4" stroke="#8a8a8a" stroke-width="0.8" />
<rect x="234.4" y="420.2" width="22.4" height="9.2" fill="#fff" stroke="#8a8a8a" stroke-width="0.6" />
<rect x="234.4" y="420.2" width="22.4" height="2.4" fill="#3f78b0" />
<rect x="272.6" y="420.2" width="32.4" height="9.2" fill="#fff" stroke="#8a8a8a" stroke-width="0.6" />
<rect x="272.6" y="420.2" width="32.4" height="2.4" fill="#3f78b0" />
<rect x="376.9" y="420.2" width="35.2" height="9.2" fill="#fff" stroke="#8a8a8a" stroke-width="0.6" />
<rect x="376.9" y="420.2" width="35.2" height="2.4" fill="#3f78b0" />
<rect x="219.5" y="435.2" width="9.1" height="27.8" fill="#fff" stroke="#8a8a8a" stroke-width="0.6" />
<rect x="219.3" y="435.2" width="2.5" height="27.8" fill="#3f78b0" />
<rect x="505.4" y="399.8" width="33.6" height="27.8" fill="#fff" stroke="#555" stroke-width="0.8" />
<text x="499.7" y="279.8" font-size="10.5" text-anchor="middle" fill="#1c1c1c">PALIER</text>
<text x="463.4" y="363.6" font-size="10.5" text-anchor="middle" fill="#1c1c1c">LOCAL</text>
<text x="463.4" y="375.6" font-size="10.5" text-anchor="middle" fill="#1c1c1c">INFO.</text>
<path d="M504.5,395.8 L504.5,362.2 L501.3,362.2 L501.3,395.8 Z" fill="#fff" stroke="#bcbcbc" stroke-width="1.0"/>
<path d="M502.9,362.2 A33.6,33.6 0 0 1 536.5,395.8" fill="none" stroke="#bcbcbc" stroke-width="1.0"/>
<line x1="502.9" y1="395.8" x2="536.5" y2="395.8" stroke="#bcbcbc" stroke-width="0.8" />
<!-- right -->
<g transform="translate(908.6,459.4) rotate(0)">
<use href="#ws" x="0.0" y="0"/>
<use href="#ws" transform="translate(46.8,48.4) rotate(180)"/>
<use href="#ws" x="46.8" y="0"/>
<use href="#ws" transform="translate(93.6,48.4) rotate(180)"/>
<use href="#ws" x="93.6" y="0"/>
<use href="#ws" transform="translate(140.4,48.4) rotate(180)"/>
<rect x="0" y="22.7" width="140.4" height="3" fill="#444"/>
</g>
<g transform="translate(909.5,577.3) rotate(0)">
<use href="#ws" x="0.0" y="0"/>
<use href="#ws" transform="translate(46.8,48.4) rotate(180)"/>
<use href="#ws" x="46.8" y="0"/>
<use href="#ws" transform="translate(93.6,48.4) rotate(180)"/>
<use href="#ws" x="93.6" y="0"/>
<use href="#ws" transform="translate(140.4,48.4) rotate(180)"/>
<rect x="0" y="22.7" width="140.4" height="3" fill="#444"/>
</g>
<g transform="translate(955.2,694.8) rotate(0)">
<use href="#ws" x="0.0" y="0"/>
<use href="#ws" transform="translate(46.8,48.4) rotate(180)"/>
<use href="#ws" x="46.8" y="0"/>
<use href="#ws" transform="translate(93.6,48.4) rotate(180)"/>
<rect x="0" y="22.7" width="93.6" height="3" fill="#444"/>
</g>
<g transform="translate(1049.0,460.4)"><rect x="0" y="0" width="11.2" height="43.5" fill="#fff" stroke="#9a9a9a" stroke-width="0.9"/><rect x="3.4" y="3.2" width="4.6" height="37.1" fill="#b8b8b8" stroke="#8d8d8d" stroke-width="0.5"/><path d="M3.4,5.6h4.6M3.4,8.0h4.6M3.4,10.4h4.6M3.4,12.8h4.6M3.4,15.2h4.6M3.4,17.6h4.6M3.4,20.0h4.6M3.4,22.4h4.6M3.4,24.8h4.6M3.4,27.2h4.6M3.4,29.6h4.6M3.4,32.0h4.6M3.4,34.4h4.6M3.4,36.8h4.6" stroke="#8a8a8a" stroke-width="0.5"/></g>
<g transform="translate(1049.0,641.0)"><rect x="0" y="0" width="11.2" height="47.4" fill="#fff" stroke="#9a9a9a" stroke-width="0.9"/><rect x="3.4" y="3.2" width="4.6" height="41.0" fill="#b8b8b8" stroke="#8d8d8d" stroke-width="0.5"/><path d="M3.4,5.6h4.6M3.4,8.0h4.6M3.4,10.4h4.6M3.4,12.8h4.6M3.4,15.2h4.6M3.4,17.6h4.6M3.4,20.0h4.6M3.4,22.4h4.6M3.4,24.8h4.6M3.4,27.2h4.6M3.4,29.6h4.6M3.4,32.0h4.6M3.4,34.4h4.6M3.4,36.8h4.6M3.4,39.2h4.6M3.4,41.6h4.6" stroke="#8a8a8a" stroke-width="0.5"/></g>
<rect x="859.2" y="701.5" width="4.7" height="86.1" fill="#7f7f7f" />
<g transform="translate(863.9,701.8) rotate(0)"><rect x="0" y="0" width="38.6" height="42" fill="#f3f3f1" stroke="#8696a0" stroke-width="1.6"/><rect x="3.6" y="6.3" width="19.2" height="16.6" rx="5.6" fill="#e2d3c0" stroke="#55504a" stroke-width="0.9"/><path d="M1.6,26 H26 Q30.7,26 30.7,31 V38.6 H1.6 Z" fill="#3c4646"/><path d="M1,40.4H37.6" stroke="#9fb0b8" stroke-width="1.2"/><path d="M37.8,3.8 V38.2" stroke="#111" stroke-width="1.6"/><path d="M38.6,2.4 Q55,3.5 63.8,13.4 L38,37.8" fill="none" stroke="#111" stroke-width="1.3"/></g>
<g transform="translate(863.9,744.6) rotate(0)"><rect x="0" y="0" width="38.6" height="42" fill="#f3f3f1" stroke="#8696a0" stroke-width="1.6"/><rect x="3.6" y="6.3" width="19.2" height="16.6" rx="5.6" fill="#e2d3c0" stroke="#55504a" stroke-width="0.9"/><path d="M1.6,26 H26 Q30.7,26 30.7,31 V38.6 H1.6 Z" fill="#3c4646"/><path d="M1,40.4H37.6" stroke="#9fb0b8" stroke-width="1.2"/><path d="M37.8,3.8 V38.2" stroke="#111" stroke-width="1.6"/><path d="M38.6,2.4 Q55,3.5 63.8,13.4 L38,37.8" fill="none" stroke="#111" stroke-width="1.3"/></g>
<!-- bottom -->
<rect x="564.2" y="400.2" width="16.4" height="1.2" fill="#9a9a9a" />
<rect x="564.2" y="413.4" width="16.4" height="1.4" fill="#9a9a9a" />
<rect x="579.3" y="417.0" width="13.4" height="18.5" fill="#fff" stroke="#777" stroke-width="0.8" />
<rect x="577.2" y="445.6" width="26.2" height="31.1" fill="#fff" stroke="#777" stroke-width="0.8" />
<rect x="577.2" y="506.2" width="26.2" height="47.4" fill="#fff" stroke="#777" stroke-width="0.8" />
<rect x="577.2" y="569.0" width="26.2" height="48.0" fill="#fff" stroke="#777" stroke-width="0.8" />
<rect x="592.2" y="404.6" width="11.8" height="12.4" fill="#fff" />
<rect x="592.0" y="400.1" width="23.8" height="4.4" fill="#7f7f7f" />
<rect x="592.8" y="417.0" width="11.2" height="18.5" fill="#fff" />
<rect x="603.6" y="637.5" width="37.6" height="2.9" fill="#7f7f7f" />
<rect x="603.2" y="640.4" width="38.0" height="11.6" fill="#fff" />
<g transform="translate(604.2,469.4)"><rect x="0" y="0" width="11.2" height="47.4" fill="#fff" stroke="#9a9a9a" stroke-width="0.9"/><rect x="3.4" y="3.2" width="4.6" height="41.0" fill="#b8b8b8" stroke="#8d8d8d" stroke-width="0.5"/><path d="M3.4,5.6h4.6M3.4,8.0h4.6M3.4,10.4h4.6M3.4,12.8h4.6M3.4,15.2h4.6M3.4,17.6h4.6M3.4,20.0h4.6M3.4,22.4h4.6M3.4,24.8h4.6M3.4,27.2h4.6M3.4,29.6h4.6M3.4,32.0h4.6M3.4,34.4h4.6M3.4,36.8h4.6M3.4,39.2h4.6M3.4,41.6h4.6" stroke="#8a8a8a" stroke-width="0.5"/></g>
<g transform="translate(604.2,546.0)"><rect x="0" y="0" width="11.2" height="47.4" fill="#fff" stroke="#9a9a9a" stroke-width="0.9"/><rect x="3.4" y="3.2" width="4.6" height="41.0" fill="#b8b8b8" stroke="#8d8d8d" stroke-width="0.5"/><path d="M3.4,5.6h4.6M3.4,8.0h4.6M3.4,10.4h4.6M3.4,12.8h4.6M3.4,15.2h4.6M3.4,17.6h4.6M3.4,20.0h4.6M3.4,22.4h4.6M3.4,24.8h4.6M3.4,27.2h4.6M3.4,29.6h4.6M3.4,32.0h4.6M3.4,34.4h4.6M3.4,36.8h4.6M3.4,39.2h4.6M3.4,41.6h4.6" stroke="#8a8a8a" stroke-width="0.5"/></g>
<path d="M615.6,402.3 H717 A28.8,28.8 0 0 1 745.8,431.1 V587" fill="none" stroke="#2447b3" stroke-width="3.8"/>
<path d="M619,402.3 H717 A28.8,28.8 0 0 1 745.8,431.1 V585" fill="none" stroke="#b9c8f5" stroke-width="0.9" stroke-dasharray="1.6 6"/>
<rect x="743.8" y="587.0" width="4.0" height="13.6" fill="#0a0a0a" />
<rect x="742.8" y="600.6" width="5.6" height="36.0" fill="#fff" stroke="#2447b3" stroke-width="0.9" />
<path d="M742.8,600.6 A36,36 0 0 0 706.8,636.6" fill="none" stroke="#2447b3" stroke-width="1"/>
<line x1="706.8" y1="636.5" x2="748.4" y2="636.5" stroke="#2447b3" stroke-width="1.2" />
<text x="724" y="635" font-size="3.4" fill="#2447b3">PV 93</text>
<rect x="715.9" y="651.6" width="4.1" height="2.8" fill="#0a0a0a" />
<rect x="715.0" y="654.4" width="6.4" height="38.8" fill="#fff" stroke="#2447b3" stroke-width="0.9" />
<path d="M679.7,656.2 A35.4,35.4 0 0 0 715.2,691.4" fill="none" stroke="#2447b3" stroke-width="1"/>
<line x1="679.7" y1="656.2" x2="721.4" y2="656.2" stroke="#2447b3" stroke-width="1.6" />
<rect x="715.9" y="693.2" width="4.1" height="2.2" fill="#0a0a0a" />
<text x="697" y="660.6" font-size="3.4" fill="#2447b3">PV 83</text>
<use href="#mc" transform="translate(651.3,450.4) rotate(-90)"/>
<use href="#mc" transform="translate(699.8,450.4) rotate(90)"/>
<use href="#mc" transform="translate(651.3,476.4) rotate(-90)"/>
<use href="#mc" transform="translate(699.8,476.4) rotate(90)"/>
<use href="#mc" transform="translate(651.3,502.4) rotate(-90)"/>
<use href="#mc" transform="translate(699.8,502.4) rotate(90)"/>
<use href="#mc" transform="translate(651.3,528.4) rotate(-90)"/>
<use href="#mc" transform="translate(699.8,528.4) rotate(90)"/>
<use href="#mc" transform="translate(651.3,554.4) rotate(-90)"/>
<use href="#mc" transform="translate(651.3,580.4) rotate(-90)"/>
<use href="#mc" transform="translate(699.8,580.4) rotate(90)"/>
<use href="#mc" transform="translate(709.0,558.0) rotate(70)"/>
<rect x="651.3" y="432.4" width="48.5" height="162.8" fill="#f7f7f2" stroke="#111" stroke-width="1.1" />
<text x="653.4" y="438" font-size="3.5" fill="#333">L420xP120</text><text x="653.4" y="442.6" font-size="3.5" fill="#333">H75</text>
<rect x="646.8" y="633.2" width="57.4" height="4.8" fill="#0a0a0a" />
<circle cx="674.7" cy="644.3" r="4.3" fill="none" stroke="#d8202a" stroke-width="1"/>
<rect x="628.3" y="791.6" width="56.9" height="4.6" fill="#0a0a0a" />
<circle cx="656" cy="802.6" r="4.3" fill="none" stroke="#d8202a" stroke-width="1"/>
<use href="#mc" transform="translate(635.0,702.7) rotate(-90)"/>
<use href="#mc" transform="translate(635.0,727.8) rotate(-90)"/>
<use href="#mc" transform="translate(677.8,702.7) rotate(90)"/>
<use href="#mc" transform="translate(677.8,727.8) rotate(90)"/>
<use href="#mc" transform="translate(677.8,753.6) rotate(90)"/>
<use href="#mc" transform="translate(629.2,753.6) rotate(-125)"/>
<rect x="635.0" y="685.6" width="42.8" height="85.6" fill="#f7f7f2" stroke="#111" stroke-width="1.1" />
<text x="637" y="691" font-size="3.5" fill="#333">L220xP110</text><text x="637" y="695.6" font-size="3.5" fill="#333">H75</text>
<rect x="576.3" y="709.9" width="6.9" height="37.1" fill="#fff" stroke="#777" stroke-width="0.7" />
<rect x="582.0" y="710.0" width="2.0" height="37.0" fill="#5b8fc5" />
<g transform="translate(585.6,706.6)"><rect x="0" y="0" width="11.2" height="45.4" fill="#fff" stroke="#9a9a9a" stroke-width="0.9"/><rect x="3.4" y="3.2" width="4.6" height="39.0" fill="#b8b8b8" stroke="#8d8d8d" stroke-width="0.5"/><path d="M3.4,5.6h4.6M3.4,8.0h4.6M3.4,10.4h4.6M3.4,12.8h4.6M3.4,15.2h4.6M3.4,17.6h4.6M3.4,20.0h4.6M3.4,22.4h4.6M3.4,24.8h4.6M3.4,27.2h4.6M3.4,29.6h4.6M3.4,32.0h4.6M3.4,34.4h4.6M3.4,36.8h4.6M3.4,39.2h4.6" stroke="#8a8a8a" stroke-width="0.5"/></g>
<rect x="742.4" y="685.8" width="94.2" height="101.6" fill="#fdfdfc" stroke="#aaa" stroke-width="0.9" />
<path d="M773.3,701.9h1.1M750.2,740.1h0.8M748.8,737.2h0.5M783.4,693.9h0.6M782.6,768.9h0.6M764.0,749.1h1.4M796.6,726.3h1.4M747.8,772.0h0.8M756.8,698.7h0.8M818.6,704.9h1.0M802.3,723.9h1.0M749.3,692.9h0.7M806.1,729.3h0.8M797.4,731.9h0.8M816.6,756.2h0.7M796.3,739.0h1.3M810.6,715.5h1.4M754.4,728.4h1.2M757.5,735.4h0.5M805.0,762.7h1.0M824.0,718.1h1.1M798.2,744.4h0.9M820.8,780.5h0.9M804.6,693.0h1.1M803.0,785.3h1.2M769.7,725.2h1.1M745.6,732.7h0.7M754.3,692.8h1.2M755.4,711.5h0.9M823.7,695.0h0.9M794.0,774.5h1.2M823.0,714.6h0.9M776.5,774.5h1.4M757.4,704.4h0.7M765.0,735.0h1.0M767.7,687.4h0.9M777.5,743.1h1.4M807.0,738.0h1.1M805.7,692.3h1.3M815.3,773.6h1.2M779.6,726.5h0.6M801.9,693.2h0.6M762.7,703.1h0.8M748.3,687.0h0.6M752.8,723.0h0.5M823.9,747.8h0.6M766.7,721.4h0.8M754.8,771.0h1.4M786.4,734.9h0.6M752.9,720.9h0.7M819.8,703.0h0.5M831.0,739.3h0.6M793.5,689.7h1.0M833.5,772.5h1.1M767.5,723.3h0.7M814.5,739.7h1.2M773.8,709.1h1.2M834.1,771.4h1.2M818.8,760.2h0.7M791.1,722.2h0.5M746.1,714.7h0.7M807.2,781.7h0.9M829.7,784.8h1.4M777.0,708.8h0.7M761.6,707.2h1.1M826.3,770.2h0.9M803.6,766.2h0.6M804.3,777.1h1.2M812.5,734.3h0.7M816.1,719.9h1.2M832.9,726.2h0.9M830.6,758.8h0.7M755.2,702.0h1.3M817.7,701.5h1.2M833.7,752.1h0.8M794.0,700.0h0.5M832.8,751.3h1.0M829.4,729.9h1.3M819.5,707.9h0.7M770.5,710.8h1.0M767.4,728.5h0.6M827.2,722.0h0.9M797.2,776.5h0.9M827.9,736.7h1.0M791.7,688.9h0.9M760.3,687.4h1.2M759.4,733.9h1.2M794.7,719.3h1.0M794.6,764.6h0.6M795.0,711.6h0.7M814.5,737.3h1.0M813.4,777.3h0.9M799.9,737.0h1.0M807.2,731.8h1.0M787.5,780.2h1.1M824.1,780.3h0.7M795.0,780.4h1.3M756.1,699.0h0.9M750.2,710.8h0.6M805.1,764.6h1.3M757.7,757.9h1.1M756.7,774.4h1.4M763.7,781.3h0.9M788.3,785.0h1.2M758.4,729.7h1.0M774.7,706.4h0.8M809.9,688.9h1.0M784.0,688.8h0.8M800.9,737.7h0.6M834.1,765.0h1.4M753.1,713.3h0.5M815.2,713.8h0.6M782.3,777.2h1.2M767.3,701.8h1.3M796.0,756.3h0.6M748.8,755.1h0.9M750.2,779.9h1.1M817.2,695.3h1.3M749.6,772.4h0.9M774.7,741.8h1.3M768.1,699.8h1.0M765.4,697.8h0.6M748.1,707.0h0.8M771.6,762.2h0.8M789.5,704.6h0.8M745.2,711.8h0.5M810.9,741.6h0.7M787.2,779.5h0.6M818.8,729.8h0.9M820.3,725.9h1.0M806.8,784.3h0.8M820.1,757.0h1.1M780.7,721.4h0.5M755.4,694.0h1.2M767.0,703.2h0.6M820.9,773.2h1.1M769.4,711.0h0.8M785.8,702.6h0.9M767.7,782.2h1.4M793.8,711.2h1.4M772.0,722.3h0.5M778.6,734.0h1.0M762.0,737.0h0.5M767.8,695.9h0.9M747.3,689.2h0.8M764.9,745.0h1.0M812.5,752.1h1.1M824.4,725.6h0.8M834.1,701.8h1.2M802.7,691.3h1.3M825.6,749.1h1.2M818.2,700.8h1.0M789.9,769.7h1.2M819.5,744.8h1.3M806.3,755.6h0.7M746.4,700.2h0.8M753.2,769.7h1.0M801.3,749.0h1.1M788.5,687.3h1.2M812.3,736.8h1.0M804.2,693.5h1.2M766.7,694.4h0.7M810.6,707.3h1.2M833.3,735.9h0.8M787.6,754.7h1.2M800.3,750.6h0.6M757.1,712.1h1.2M771.5,743.2h0.5M749.1,713.6h1.1M807.2,753.9h0.8M791.0,733.0h0.9M754.4,775.5h0.7M833.5,779.7h0.5M785.7,768.2h1.4M784.8,713.6h0.7M830.5,707.9h1.0M756.5,738.9h1.4M755.7,768.2h1.0M825.1,756.6h0.7M826.1,735.1h0.5M743.8,735.7h0.9M771.3,700.9h0.8M772.6,770.2h0.5M812.6,770.1h0.6M828.7,757.6h1.3M770.2,723.8h0.9M835.4,745.3h0.8M782.9,714.2h0.5M752.9,769.6h0.8M829.6,711.7h0.7M790.5,705.8h0.8M831.5,774.5h1.2M801.5,777.4h1.3M794.0,758.2h0.5M810.9,731.6h1.2M802.8,715.3h0.5M828.8,699.6h0.9M775.1,716.5h1.2M833.3,712.8h1.1M771.2,742.2h0.9M758.9,703.0h0.7M826.8,736.2h0.7M826.9,785.7h0.9M756.3,706.0h0.6M775.0,696.0h0.7M767.3,743.4h1.3M812.5,727.9h0.9M791.7,724.3h0.8M749.2,714.5h1.4M755.1,736.8h1.1M822.9,708.4h0.7M766.4,726.6h0.9M831.3,771.0h1.3M745.5,690.2h1.1M825.9,733.9h1.0M743.5,725.8h1.3M819.5,771.7h1.4M766.4,697.8h0.6M791.6,754.5h1.3M809.9,751.1h1.2M785.6,741.6h0.5M815.5,710.0h1.3M802.9,717.1h0.6M766.7,750.0h1.1M753.8,694.0h1.0M797.1,725.4h0.7M798.8,688.0h0.8M785.9,781.9h1.1M824.8,734.1h0.7M766.2,782.1h1.1" stroke="#8f8f8f" stroke-width="0.7" fill="none"/>
<use href="#kc" transform="translate(768.8,718.0) rotate(-90)"/>
<use href="#kc" transform="translate(810.8,718.0) rotate(90)"/>
<use href="#kc" transform="translate(768.8,744.0) rotate(-90)"/>
<use href="#kc" transform="translate(810.8,744.0) rotate(90)"/>
<use href="#kc" transform="translate(768.8,771.0) rotate(-90)"/>
<use href="#kc" transform="translate(810.8,771.0) rotate(90)"/>
<rect x="768.8" y="702.8" width="42.0" height="85.0" fill="#fff" stroke="#222" stroke-width="1.1" />
<text x="770.8" y="708.2" font-size="3.5" fill="#333">L220xP110</text><text x="770.8" y="712.8" font-size="3.5" fill="#333">H98</text>
<rect x="820.8" y="499.6" width="30.4" height="97.4" fill="#d9d1c1" stroke="#3a362e" stroke-width="1.1" rx="4"/>
<path d="M826.4,503.6 H848.4 V593 H826.4" fill="#dcd4c4" stroke="#2d2a24" stroke-width="1.3"/>
<line x1="826.4" y1="548.6" x2="848.4" y2="548.6" stroke="#2d2a24" stroke-width="1.1" />
<rect x="798.0" y="505.6" width="27.0" height="27.2" fill="#fff" stroke="#222" stroke-width="1.1" rx="3"/>
<text x="801" y="510.6" font-size="3.3" fill="#333">L70xP70</text><text x="801" y="515.0" font-size="3.3" fill="#333">H75</text>
<rect x="798.0" y="535.2" width="27.0" height="27.2" fill="#fff" stroke="#222" stroke-width="1.1" rx="3"/>
<text x="801" y="540.2" font-size="3.3" fill="#333">L70xP70</text><text x="801" y="544.6" font-size="3.3" fill="#333">H75</text>
<rect x="798.0" y="565.0" width="27.0" height="27.2" fill="#fff" stroke="#222" stroke-width="1.1" rx="3"/>
<text x="801" y="570.0" font-size="3.3" fill="#333">L70xP70</text><text x="801" y="574.4" font-size="3.3" fill="#333">H75</text>
<circle cx="790" cy="515.8" r="7.4" fill="#cfc7b6" stroke="#3a362e" stroke-width="1.1"/>
<text x="785.6" y="515.4" font-size="3.2" fill="#333">Diam.</text><text x="785.6" y="519.4" font-size="3.2" fill="#333">40</text>
<circle cx="790" cy="551.4" r="7.4" fill="#cfc7b6" stroke="#3a362e" stroke-width="1.1"/>
<text x="785.6" y="551.0" font-size="3.2" fill="#333">Diam.</text><text x="785.6" y="555.0" font-size="3.2" fill="#333">40</text>
<circle cx="790" cy="580.4" r="7.4" fill="#cfc7b6" stroke="#3a362e" stroke-width="1.1"/>
<text x="785.6" y="580.0" font-size="3.2" fill="#333">Diam.</text><text x="785.6" y="584.0" font-size="3.2" fill="#333">40</text>
<text x="828" y="506.2" font-size="3.3" fill="#333">L250xP91</text>
<rect x="851.8" y="529.4" width="7.2" height="20.2" fill="#fff" stroke="#bbb" stroke-width="0.6" />
<polygon points="834.0,384.5 849.5,384.5 849.5,397.6 834.0,397.6" fill="#fff" stroke="#888" stroke-width="0.6" />
<rect x="834.6" y="387.5" width="14.0" height="4.5" fill="#555" />
<rect x="834.6" y="393.0" width="14.0" height="3.6" fill="#666" />
<rect x="834.0" y="397.6" width="15.5" height="15.4" fill="#f5f5f0" stroke="#1a1a1a" stroke-width="1.1" />
<rect x="834.0" y="413.0" width="15.5" height="15.3" fill="#f5f5f0" stroke="#1a1a1a" stroke-width="1.1" />
<polygon points="827.0,407.4 831.4,407.4 829.2,403.6" fill="#2a2a2a" />
<polygon points="827.0,422.8 831.4,422.8 829.2,419.0" fill="#2a2a2a" />
<text transform="translate(820.6,413) rotate(90)" font-size="4.8" text-anchor="middle" fill="#444">Casiers x 8</text>
<rect x="863.6" y="399.5" width="36.1" height="15.1" fill="#fff" stroke="#aaa" stroke-width="0.6" />
<rect x="869.5" y="401.0" width="9.0" height="12.0" fill="#777" stroke="#444" stroke-width="0.6" />
<circle cx="617.1" cy="382" r="15.5" fill="#fff" stroke="#222" stroke-width="1.2"/><circle cx="617.1" cy="382.2" r="1.4" fill="#fff" stroke="#222" stroke-width="1"/>
<text x="607.6" y="374.2" font-size="3.6" fill="#333">Diam.90</text><text x="607.6" y="378.6" font-size="3.6" fill="#333">H45</text>
<polygon points="546.4,256.0 546.4,293.4 566.4,274.0" fill="#e8101c" />
<path d="M548,250.8 H562.4 A44,44 0 0 1 548,287" fill="none" stroke="#c4c4c4" stroke-width="0.9"/>
<line x1="546.4" y1="274.5" x2="562.0" y2="262.5" stroke="#f08a90" stroke-width="0.7" />
<text transform="translate(536.6,275.6) rotate(90)" font-size="10.6" text-anchor="middle" font-weight="bold" fill="#111">ENTRÉE</text>
<!-- plants -->
<path d="M251.6,323.6 V249.4 A6.3,6.3 0 0 1 264.2,249.4 V323.6 Z" fill="#fff" stroke="#555" stroke-width="0.8"/>
<rect x="252.4" y="273.0" width="11.2" height="8.0" fill="#555" stroke="#333" stroke-width="0.6" />
<path d="M253,275.5h10M253,278h10" stroke="#999" stroke-width="0.6"/>
<rect x="252.4" y="281.0" width="11.2" height="12.8" fill="#fff" stroke="#555" stroke-width="0.8" />
<rect x="252.4" y="293.8" width="11.2" height="13.8" fill="#fff" stroke="#555" stroke-width="0.8" />
<rect x="252.4" y="307.6" width="11.2" height="13.8" fill="#e9f3e4" stroke="#6a9a5a" stroke-width="0.8" />
<circle cx="258" cy="314.6" r="5.4" fill="#4b993c"/>
<use href="#pstar" transform="translate(258.0,262.6) scale(0.9)"/>
<rect x="345.6" y="284.6" width="7.4" height="63.4" fill="#858585" />
<path d="M322.6,284.6 V262 A19,19 0 0 1 341.6,243 H346.8 V284.6 Z" fill="#fff" stroke="#666" stroke-width="0.8"/>
<line x1="342.8" y1="243.0" x2="342.8" y2="284.6" stroke="#888" stroke-width="0.6" />
<rect x="322.6" y="284.6" width="23.0" height="109.0" fill="#ddd6c6" stroke="#b9b09c" stroke-width="0.8" rx="1.5"/>
<line x1="322.6" y1="311.8" x2="345.6" y2="311.8" stroke="#b9b09c" stroke-width="0.8" />
<line x1="322.6" y1="339.2" x2="345.6" y2="339.2" stroke="#b9b09c" stroke-width="0.8" />
<line x1="322.6" y1="366.4" x2="345.6" y2="366.4" stroke="#b9b09c" stroke-width="0.8" />
<line x1="343.2" y1="284.6" x2="343.2" y2="393.6" stroke="#c8bfac" stroke-width="0.6" />
<use href="#pstar" transform="translate(336.8,258.0) rotate(20) scale(0.72)"/>
<use href="#pleaf" transform="translate(334.2,273.0) rotate(40) scale(0.72)"/>
<use href="#rc" transform="translate(305.7,297.7) rotate(-90)"/>
<circle cx="314.9" cy="297.7" r="11.4" fill="#fff" stroke="#222" stroke-width="1.1"/>
<text x="308.6" y="293.5" font-size="3.4" fill="#333">Diam.60</text><text x="308.6" y="297.7" font-size="3.4" fill="#333">H75</text>
<use href="#rc" transform="translate(305.7,324.9) rotate(-90)"/>
<circle cx="314.9" cy="324.9" r="11.4" fill="#fff" stroke="#222" stroke-width="1.1"/>
<text x="308.6" y="320.7" font-size="3.4" fill="#333">Diam.60</text><text x="308.6" y="324.9" font-size="3.4" fill="#333">H75</text>
<use href="#rc" transform="translate(305.7,352.1) rotate(-90)"/>
<circle cx="314.9" cy="352.1" r="11.4" fill="#fff" stroke="#222" stroke-width="1.1"/>
<text x="308.6" y="347.9" font-size="3.4" fill="#333">Diam.60</text><text x="308.6" y="352.1" font-size="3.4" fill="#333">H75</text>
<use href="#rc" transform="translate(305.7,379.2) rotate(-90)"/>
<circle cx="314.9" cy="379.2" r="11.4" fill="#fff" stroke="#222" stroke-width="1.1"/>
<text x="308.6" y="375.0" font-size="3.4" fill="#333">Diam.60</text><text x="308.6" y="379.2" font-size="3.4" fill="#333">H75</text>
<use href="#rad" transform="translate(283.8,407.6) scale(1.1)"/>
<use href="#pstar" transform="translate(370.0,169.0) scale(0.95)"/>
<use href="#pleaf" transform="translate(377.2,185.6) rotate(15) scale(1.0)"/>
<use href="#pleaf" transform="translate(523.0,326.5) rotate(10) scale(0.9)"/>
<use href="#pstar" transform="translate(537.5,314.5) rotate(5) scale(0.85)"/>
<use href="#pstar" transform="translate(600.0,412.0) rotate(30) scale(0.85)"/>
<use href="#pleaf" transform="translate(609.5,428.5) scale(1.0)"/>
<use href="#palm" transform="translate(617.3,625.5) scale(1.0)"/>
<use href="#pstar" transform="translate(634.2,627.3) rotate(10) scale(0.72)"/>
<use href="#pleaf" transform="translate(593.0,782.0) rotate(25) scale(0.95)"/>
<use href="#pstar" transform="translate(608.0,786.0) scale(0.8)"/>
<use href="#palm" transform="translate(757.0,48.6) rotate(200) scale(1.02)"/>
<g transform="translate(672.6,172.6) rotate(-52.3)"><rect x="-13.5" y="-5.6" width="27" height="11.2" fill="#fff" stroke="#999" stroke-width="0.6"/><rect x="-12.8" y="-4.6" width="12" height="9.2" fill="#5a5a5a"/></g>
<use href="#pstar" transform="translate(677.6,166.0) scale(0.62)"/>
<use href="#pstar" transform="translate(955.6,243.0) rotate(10) scale(0.7)"/>
<use href="#pstar" transform="translate(1054.2,391.4) scale(0.92)"/>
<use href="#pleaf" transform="translate(1073.6,381.8) rotate(30) scale(1.0)"/>
<use href="#pstar" transform="translate(841.6,375.5) rotate(15) scale(0.85)"/>
<use href="#pstar" transform="translate(889.8,406.6) scale(0.75)"/>
<use href="#pstar" transform="translate(854.5,528.4) scale(0.78)"/>
<use href="#palm" transform="translate(856.5,689.5) rotate(90) scale(1.0)"/>
<use href="#pstar" transform="translate(872.0,692.6) rotate(20) scale(0.75)"/>
<g transform="translate(875.4,396.6) rotate(-90)"><rect x="0" y="0" width="38.6" height="42" fill="#f3f3f1" stroke="#8696a0" stroke-width="1.6"/><rect x="3.6" y="6.3" width="19.2" height="16.6" rx="5.6" fill="#e2d3c0" stroke="#55504a" stroke-width="0.9"/><path d="M1.6,26 H26 Q30.7,26 30.7,31 V38.6 H1.6 Z" fill="#3c4646"/><path d="M1,40.4H37.6" stroke="#9fb0b8" stroke-width="1.2"/><path d="M37.8,3.8 V38.2" stroke="#111" stroke-width="1.6"/><path d="M38.6,2.4 Q55,3.5 63.8,13.4 L38,37.8" fill="none" stroke="#111" stroke-width="1.3"/></g>
<g transform="translate(723.5,61.0) rotate(128.4)"><path d="M15,-14.4 L-6,-15.4 Q-15.6,-15.4 -15.6,-6 V6 Q-15.6,15.4 -6,15.4 L15,14.4 Q16.2,14.2 15.8,12.6 L14.6,9.6 H-5.4 V-9.6 H14.6 L15.8,-12.6 Q16.2,-14.2 15,-14.4 Z" fill="#ddd6c6" stroke="#111" stroke-width="1.8" stroke-linejoin="round"/><rect x="-5.4" y="-9.6" width="20.4" height="19.2" fill="#dcd5c5" stroke="#111" stroke-width="1"/><path d="M2.4,-9.6V9.6" stroke="#111" stroke-width="1"/><path d="M-5.4,-9.6 l3.4,0 l-1.4,2.6Z M-5.4,9.6 l3.4,0 l-1.4,-2.6Z" fill="#111" stroke="#111" stroke-width="1"/></g>
<g transform="translate(579.0,381.0) rotate(-17)"><path d="M15,-14.4 L-6,-15.4 Q-15.6,-15.4 -15.6,-6 V6 Q-15.6,15.4 -6,15.4 L15,14.4 Q16.2,14.2 15.8,12.6 L14.6,9.6 H-5.4 V-9.6 H14.6 L15.8,-12.6 Q16.2,-14.2 15,-14.4 Z" fill="#ddd6c6" stroke="#111" stroke-width="1.8" stroke-linejoin="round"/><rect x="-5.4" y="-9.6" width="20.4" height="19.2" fill="#dcd5c5" stroke="#111" stroke-width="1"/><path d="M2.4,-9.6V9.6" stroke="#111" stroke-width="1"/><path d="M-5.4,-9.6 l3.4,0 l-1.4,2.6Z M-5.4,9.6 l3.4,0 l-1.4,-2.6Z" fill="#111" stroke="#111" stroke-width="1"/></g>
<g transform="translate(652.7,382.2) rotate(15)"><rect x="-14.6" y="-13" width="22" height="26" rx="5.5" fill="#fff" stroke="#111" stroke-width="1.5"/><path d="M-14.6,0H7.4" stroke="#111" stroke-width="1.1"/><rect x="6.4" y="-11" width="6.6" height="22" fill="#fff" stroke="#111" stroke-width="1.6"/><path d="M8.6,-11V11M10.8,-10V10M6.4,-3.6H13M6.4,3.6H13" stroke="#111" stroke-width="1"/><rect x="12.6" y="-6.5" width="2.4" height="4" fill="#111"/><rect x="12.6" y="7" width="2.4" height="3" fill="#111"/></g>
<polygon points="119.9,492.5 147.7,505.1 149.1,502.1 121.3,489.5" fill="#fff" stroke="#c4c4c4" stroke-width="0.9" />
<polygon points="149.8,504.6 175.2,473.0 172.8,471.0 147.4,502.6" fill="#fff" stroke="#c4c4c4" stroke-width="0.9" />
<polygon points="147.8,505.0 181.8,525.0 183.4,522.2 149.4,502.2" fill="#fff" stroke="#c4c4c4" stroke-width="0.9" />
<path d="M174,472 A40,40 0 0 1 182.6,523.6" fill="none" stroke="#c4c4c4" stroke-width="0.9"/>
<path d="M120.6,491 A30,30 0 0 0 126,518 M148.4,503.6 A30,30 0 0 1 137,513" fill="none" stroke="#c4c4c4" stroke-width="0.9"/>
<path d="M112,516 A24,14 0 0 0 127,518" fill="none" stroke="#c4c4c4" stroke-width="0.9"/>
<!-- labels -->
<text x="971.2" y="101.6" font-size="10.7" text-anchor="middle" fill="#1f1f1f">Espace de travail</text>
<text x="971.2" y="114.5" font-size="10.7" text-anchor="middle" fill="#1f1f1f">16 postes</text>
<line x1="930.2" y1="103.5" x2="1012.2" y2="103.5" stroke="#2a2a2a" stroke-width="1.1" />
<text x="1163.1" y="595.3" font-size="10.7" text-anchor="middle" fill="#1f1f1f">Espace de travail</text>
<text x="1163.1" y="608.1" font-size="10.7" text-anchor="middle" fill="#1f1f1f">16 postes</text>
<line x1="1122.1" y1="597.2" x2="1204.1" y2="597.2" stroke="#2a2a2a" stroke-width="1.1" />
<text x="623.5" y="337.1" font-size="10.7" text-anchor="middle" fill="#1f1f1f">Positions inf.</text>
<text x="623.5" y="349.5" font-size="10.7" text-anchor="middle" fill="#1f1f1f">02 places</text>
<line x1="593.0" y1="339.2" x2="654.0" y2="339.2" stroke="#2a2a2a" stroke-width="1.1" />
<text x="801.4" y="477.6" font-size="10.7" text-anchor="middle" fill="#1f1f1f">Positions inf.</text>
<text x="801.4" y="491.1" font-size="10.7" text-anchor="middle" fill="#1f1f1f">06 places</text>
<line x1="770.8" y1="479.8" x2="832.0" y2="479.8" stroke="#2a2a2a" stroke-width="1.1" />
<text x="539.2" y="524.0" font-size="10.7" text-anchor="middle" fill="#1f1f1f">SDR</text>
<text x="539.2" y="537.6" font-size="10.7" text-anchor="middle" fill="#1f1f1f">12 places</text>
<line x1="528.2" y1="526.0" x2="550.2" y2="526.0" stroke="#2a2a2a" stroke-width="1.1" />
<text x="536.2" y="725.0" font-size="10.7" text-anchor="middle" fill="#1f1f1f">SDR</text>
<text x="536.2" y="737.3" font-size="10.7" text-anchor="middle" fill="#1f1f1f">6 places</text>
<line x1="525.0" y1="727.0" x2="547.4" y2="727.0" stroke="#2a2a2a" stroke-width="1.1" />
<text x="287" y="3.1" font-size="10.7" text-anchor="middle" fill="#1f1f1f">14 places</text>
<text x="491.5" y="3.1" font-size="10.7" text-anchor="middle" fill="#1f1f1f">8 postes</text>
<text x="703.8" y="3.1" font-size="10.7" text-anchor="middle" fill="#1f1f1f">2 places</text>
</svg>
</body></html>
